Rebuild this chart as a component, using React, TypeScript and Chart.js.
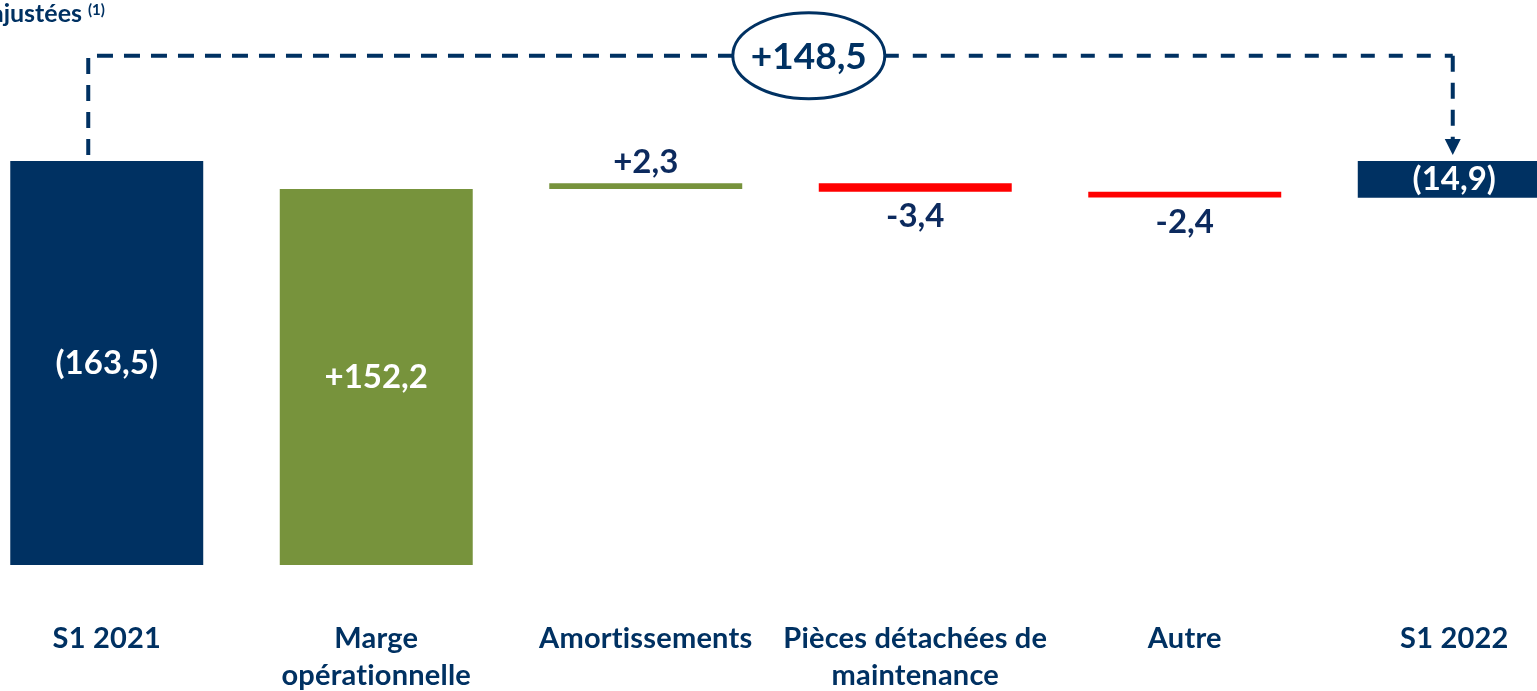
import React, { useEffect, useRef } from "react";
import { Chart, registerables } from "chart.js";

Chart.register(...registerables);

const categories: string[][] = [
  ["S1 2021"],
  ["Marge", "opérationnelle"],
  ["Amortissements"],
  ["Pièces détachées de", "maintenance"],
  ["Autre"],
  ["S1 2022"],
];
const startValue = -163.5;
const deltas = [152.2, 2.3, -3.4, -2.4];
const endValue = -14.9;
const valueLabels = ["(163,5)", "+152,2", "+2,3", "-3,4", "-2,4", "(14,9)"];
const totalChangeLabel = "+148,5";
const titleText = "ajustées";
const titleNote = "(1)";

const NAVY = "#003162";
const TEXT_NAVY = "#0c2a5e";
const GREEN = "#77933C";
const RED = "#FF0000";
const FONT = "Lato, 'Open Sans', sans-serif";
const W = "bold";

function buildBars(): [number, number][] {
  const bars: [number, number][] = [[0, startValue]];
  let acc = startValue;
  for (const d of deltas) {
    bars.push([acc, acc + d]);
    acc += d;
  }
  bars.push([0, endValue]);
  return bars;
}

const bars = buildBars();
const colors = [NAVY, ...deltas.map((d) => (d >= 0 ? GREEN : RED)), NAVY];

const overlayPlugin = {
  id: "overlay",
  afterDatasetsDraw(chart: any) {
    const ctx = chart.ctx as CanvasRenderingContext2D;
    const xs = chart.scales.x;
    const ys = chart.scales.y;
    const band = xs.getPixelForValue(1) - xs.getPixelForValue(0);
    ctx.save();

    // value labels
    bars.forEach((b, i) => {
      const x = xs.getPixelForValue(i);
      const top = ys.getPixelForValue(Math.max(b[0], b[1]));
      const bottom = ys.getPixelForValue(Math.min(b[0], b[1]));
      ctx.font = `${W} 33px ${FONT}`;
      ctx.textAlign = "center";
      const isTotal = i === 0 || i === bars.length - 1;
      if (isTotal || i === 1) {
        ctx.fillStyle = "#ffffff";
        ctx.textBaseline = "middle";
        ctx.fillText(valueLabels[i], x, (top + bottom) / 2);
      } else {
        const d = deltas[i - 1];
        ctx.fillStyle = TEXT_NAVY;
        ctx.textBaseline = "alphabetic";
        if (d >= 0) ctx.fillText(valueLabels[i], x, top - 10);
        else ctx.fillText(valueLabels[i], x, bottom + 35);
      }
    });

    // category labels
    ctx.font = `${W} 29px ${FONT}`;
    try {
      (ctx as any).letterSpacing = "0.2px";
    } catch (e) {}
    ctx.fillStyle = NAVY;
    ctx.textAlign = "center";
    ctx.textBaseline = "alphabetic";
    categories.forEach((lines, i) => {
      const x = xs.getPixelForValue(i);
      lines.forEach((ln, j) => {
        ctx.fillText(ln, x, 648 + j * 37);
      });
    });
    try {
      (ctx as any).letterSpacing = "0px";
    } catch (e) {}

    // connector
    const zeroY = ys.getPixelForValue(0);
    const levelY = ys.getPixelForValue(42.6);
    const leftX = xs.getPixelForValue(0) - 18.5;
    const rightX = xs.getPixelForValue(bars.length - 1) - 1.5;
    const ellX = xs.getPixelForValue(2) + 0.605 * band;
    const ellRx = 76;
    const ellRy = 43;
    ctx.strokeStyle = NAVY;
    ctx.lineWidth = 4;
    ctx.setLineDash([16, 11]);
    ctx.beginPath();
    ctx.moveTo(leftX, zeroY - 6);
    ctx.lineTo(leftX, levelY);
    ctx.lineTo(ellX - ellRx, levelY);
    ctx.stroke();
    ctx.setLineDash([14, 14]);
    ctx.beginPath();
    ctx.moveTo(ellX + ellRx, levelY);
    ctx.lineTo(rightX, levelY);
    ctx.stroke();
    ctx.setLineDash([16, 11]);
    ctx.beginPath();
    ctx.moveTo(rightX, levelY);
    ctx.lineTo(rightX, zeroY - 22);
    ctx.stroke();
    ctx.setLineDash([]);
    // arrowhead
    ctx.fillStyle = NAVY;
    ctx.beginPath();
    ctx.moveTo(rightX - 8, zeroY - 22);
    ctx.lineTo(rightX + 8, zeroY - 22);
    ctx.lineTo(rightX, zeroY - 6);
    ctx.closePath();
    ctx.fill();

    // ellipse
    ctx.fillStyle = "#ffffff";
    ctx.lineWidth = 3;
    ctx.beginPath();
    ctx.ellipse(ellX, levelY, ellRx, ellRy, 0, 0, Math.PI * 2);
    ctx.fill();
    ctx.stroke();
    ctx.fillStyle = NAVY;
    ctx.font = `${W} 37px ${FONT}`;
    ctx.textAlign = "center";
    ctx.textBaseline = "middle";
    ctx.fillText(totalChangeLabel, ellX, levelY + 1);

    // title fragment
    ctx.font = `${W} 25px ${FONT}`;
    ctx.textAlign = "right";
    ctx.textBaseline = "alphabetic";
    ctx.fillText(titleText, chart.chartArea.left + 28 + 82, 22);
    ctx.font = `${W} 15px ${FONT}`;
    ctx.textAlign = "left";
    ctx.fillText(titleNote, chart.chartArea.left + 28 + 88, 15);

    ctx.restore();
  },
};

export default function App() {
  const ref = useRef<HTMLCanvasElement | null>(null);
  useEffect(() => {
    if (!ref.current) return;
    const chart = new Chart(ref.current, {
      type: "bar",
      data: {
        labels: categories.map((c) => c.join(" ")),
        datasets: [
          {
            data: bars as any,
            backgroundColor: colors,
            borderWidth: 0,
            barPercentage: 0.716,
            categoryPercentage: 1,
          },
        ],
      },
      options: {
        animation: false,
        responsive: true,
        maintainAspectRatio: false,
        layout: { padding: 0 },
        plugins: {
          legend: { display: false },
          tooltip: { enabled: false },
          title: { display: false },
        },
        scales: {
          x: { display: false, offset: true },
          y: { display: false, min: -214.48, max: 65.15 },
        },
      },
      plugins: [overlayPlugin],
    });
    return () => chart.destroy();
  }, []);
  return (
    <div
      style={{
        position: "fixed",
        left: 0,
        top: 0,
        width: 1537,
        height: 691,
        overflow: "hidden",
        background: "#ffffff",
      }}
    >
      <div style={{ position: "absolute", left: -28, top: 0, width: 1617, height: 691 }}>
        <canvas ref={ref} />
      </div>
    </div>
  );
}
